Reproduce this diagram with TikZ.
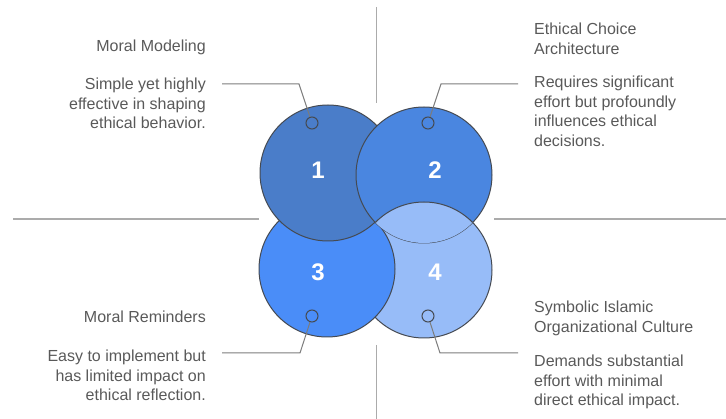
\documentclass[tikz,border=0pt]{standalone}
\usepackage{fontspec}
\setmainfont{Liberation Sans}
\usetikzlibrary{positioning}
\definecolor{one}{HTML}{4A7DC9}
\definecolor{two}{HTML}{4A86E0}
\definecolor{three}{HTML}{4A8DF8}
\definecolor{four}{HTML}{97BCF8}
\definecolor{rim}{HTML}{454A52}
\definecolor{rule}{HTML}{ABABAB}
\definecolor{lead}{HTML}{7C7C7C}
\definecolor{ink}{HTML}{595959}
\tikzset{
  disc/.style={circle,draw=rim,line width=1pt,minimum size=136pt,inner sep=0},
  ring/.style={circle,draw=rim,line width=1pt,minimum size=12pt,inner sep=0},
  num/.style={text=white,font=\fontsize{24}{24}\selectfont\bfseries},
  lbl/.style={text=ink,font=\fontsize{16}{19.5}\selectfont,inner sep=0},
  leader/.style={draw=lead,line width=1pt},
  divider/.style={draw=rule,line width=1.5pt}
}
\begin{document}
\begin{tikzpicture}[x=1pt,y=-1pt]
\useasboundingbox (0,0) rectangle (726,419);
% quadrant dividers
\draw[divider] (376.5,7)--(376.5,103);
\draw[divider] (376.5,345)--(376.5,419);
\draw[divider] (13,219)--(259,219);
\draw[divider] (494,219)--(726,219);
% the four discs, each one laps over the next
\node[disc,fill=four] (c4) at (424,270) {};
\node[disc,fill=three] (c3) at (327,269) {};
\node[disc,fill=one] (c1) at (328,173) {};
\node[disc,fill=two] (c2) at (424,175) {};
\begin{scope}
\clip (424,175) circle (68);
\draw[fill=four,draw=rim,line width=1pt] (424,270) circle (68);
\end{scope}
\node[num] (n1) at (318,170) {1};
\node[num] (n2) at (435,170) {2};
\node[num] (n3) at (318,272) {3};
\node[num] (n4) at (435,272) {4};
\node[ring] (r1) at (312,123) {};
\node[ring] (r2) at (428,123) {};
\node[ring] (r3) at (312,316) {};
\node[ring] (r4) at (428,316) {};
% labels
\node[lbl,anchor=base east] (t1) at (206,52) {Moral Modeling};
\node[lbl,anchor=north east,align=right] (d1) at (206,78) {Simple yet highly\\effective in shaping\\ethical behavior.};
\node[lbl,anchor=north west,align=left] (t2) at (534,23) {Ethical Choice\\Architecture};
\node[lbl,anchor=north west,align=left] (d2) at (534,76) {Requires significant\\effort but profoundly\\influences ethical\\decisions.};
\node[lbl,anchor=base east] (t3) at (206,323) {Moral Reminders};
\node[lbl,anchor=north east,align=right] (d3) at (206,350) {Easy to implement but\\has limited impact on\\ethical reflection.};
\node[lbl,anchor=north west,align=left] (t4) at (534,301) {Symbolic Islamic\\Organizational Culture};
\node[lbl,anchor=north west,align=left] (d4) at (534,355) {Demands substantial\\effort with minimal\\direct ethical impact.};
% leaders
\coordinate (k1) at (299,84);   \coordinate (e1) at (222,84);
\coordinate (k2) at (441,84);   \coordinate (e2) at (518,84);
\coordinate (k3) at (300,353);  \coordinate (e3) at (222,353);
\coordinate (k4) at (440,353);  \coordinate (e4) at (518,353);
\draw[leader] (r1)--(k1)--(e1);
\draw[leader] (r2)--(k2)--(e2);
\draw[leader] (r3)--(k3)--(e3);
\draw[leader] (r4)--(k4)--(e4);
\end{tikzpicture}
\end{document}
